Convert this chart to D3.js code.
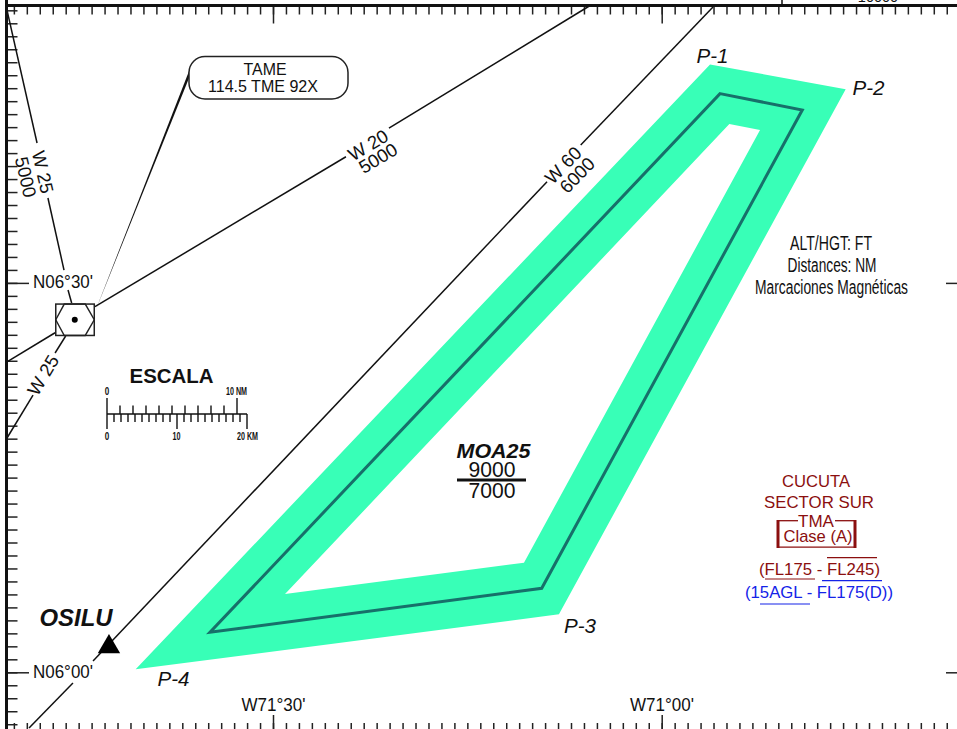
<!DOCTYPE html>
<html>
<head>
<meta charset="utf-8">
<script src="https://cdnjs.cloudflare.com/ajax/libs/d3/7.8.5/d3.min.js"></script>
<style>
  html, body { margin: 0; padding: 0; background: #fff; }
  svg { display: block; }
  text { font-family: "Liberation Sans", Arial, sans-serif; }
</style>
</head>
<body>
<div id="chart"></div>
<script>
// all geographic values in arc minutes: lon = minutes past W72 going east, lat = minutes north of N06
const moaOuter = [[63.73, 46.83], [74.20, 44.92], [52.07, 4.47], [19.40, 0.23]];
const moaHole = [[65.22, 42.24], [67.59, 41.78], [49.37, 8.44], [30.93, 6.03]];
const moaCentre = [[64.50, 44.58], [70.85, 43.32], [50.74, 6.47], [25.14, 3.08]];
const moaCorners = ["P-1", "P-2", "P-3", "P-4"];

const routeW25North = [[[9.47, 51.02], [11.79, 40.78]], [[12.63, 36.54], [13.87, 30.99]], [[14.18, 29.45], [14.46, 28.45]]];
const routeW20North = [[[16.26, 28.17], [35.63, 39.72]], [[38.95, 41.93], [54.54, 51.41]]];
const routeW20South = [[[13.18, 26.16], [9.47, 23.91]]];
const routeW25South = [[[14.00, 25.91], [13.18, 24.60]], [[11.48, 21.36], [9.47, 18.05]]];
const routeW60 = [[[11.17, -4.29], [14.56, -0.82]], [[16.11, 0.87], [51.15, 37.80]], [[53.75, 40.62], [63.96, 51.26]]];

const tameLeader = [[23.52, 46.33], [23.52, 45.79], [16.26, 27.76]];
const tamePoint = [14.70, 27.16];
const osiluPoint = [17.34, 1.96];

const lonMinor = d3.range(10, 83);
const latMinor = d3.range(-4, 52);
const lonMajor = [30, 60];
const latMajor = [0, 30];

const scaleNm = [0, 1, 2, 3, 4, 5, 6, 7, 8, 9, 10];
const scaleKm = [0, 1, 2, 3, 4, 5, 6, 7, 8, 9, 10, 11, 12, 13, 14, 15, 16, 17, 18, 19, 20];

const width = 957, height = 729;

const svg = d3.select("#chart")
  .append("svg")
    .attr("width", width)
    .attr("height", height);

// map scales, calibrated on the W71°30' / W71°00' and N06°00' / N06°30' ticks
const x = d3.scaleLinear().domain([30, 60]).range([273, 661.7]);
const y = d3.scaleLinear().domain([0, 30]).range([672.3, 282.9]);
const line = d3.line().x(d => x(d[0])).y(d => y(d[1]));

// airspace band, hole cut with evenodd
svg.append("path")
    .attr("d", line(moaOuter) + "Z" + line(moaHole) + "Z")
    .attr("fill", "#38ffb7")
    .attr("fill-rule", "evenodd");

svg.append("path")
    .attr("d", line(moaCentre) + "Z")
    .attr("fill", "none")
    .attr("stroke", "#17706a")
    .attr("stroke-width", 3)
    .attr("stroke-linejoin", "miter");

// frame ticks
function tickAxis(axis, translate, values, size) {
  const g = svg.append("g")
      .attr("transform", translate)
      .call(axis.tickValues(values).tickSize(size).tickFormat(""));
  g.select(".domain").remove();
  g.selectAll("line").attr("stroke", "#222").attr("stroke-width", 1.5);
}
tickAxis(d3.axisBottom(x), "translate(0,6)", lonMinor, 8.5);
tickAxis(d3.axisBottom(x), "translate(0,6)", lonMajor, 17.5);
tickAxis(d3.axisTop(x), "translate(0,731)", lonMinor, 8);
tickAxis(d3.axisTop(x), "translate(0,731)", lonMajor, 16);
tickAxis(d3.axisRight(y), "translate(6,0)", latMinor, 11.5);
tickAxis(d3.axisRight(y), "translate(6,0)", latMajor, 23);
tickAxis(d3.axisLeft(y), "translate(958,0)", latMajor, 12);

// frame border
svg.append("line").attr("x1", 6.5).attr("x2", 6.5).attr("y1", 0).attr("y2", height)
    .attr("stroke", "#111").attr("stroke-width", 3);
svg.append("line").attr("x1", 5).attr("x2", width).attr("y1", 5.5).attr("y2", 5.5)
    .attr("stroke", "#111").attr("stroke-width", 3.2);
// bits of the neighbouring sheet above the frame
svg.append("line").attr("x1", 782).attr("x2", 782).attr("y1", 0).attr("y2", 5)
    .attr("stroke", "#111").attr("stroke-width", 1.5);
svg.append("text").attr("x", 878).attr("y", 1.5).attr("text-anchor", "middle")
    .attr("font-size", 14.5).attr("fill", "#111").text("10000");

// airways
const routes = [routeW25North, routeW20North, routeW20South, routeW25South, routeW60];
routes.forEach(route => {
  svg.append("g").selectAll("path")
    .data(route)
    .enter()
    .append("path")
      .attr("d", line)
      .attr("fill", "none")
      .attr("stroke", "#111")
      .attr("stroke-width", 1.5);
});

// leader from the TAME box to the VOR, tapers off
svg.append("path")
    .attr("d", line(tameLeader) + "Z")
    .attr("fill", "#111");

// TAME VOR symbol
const vor = svg.append("g").attr("transform", `translate(${x(tamePoint[0])},${y(tamePoint[1])})`);
vor.append("rect")
    .attr("x", -19).attr("y", -15.7).attr("width", 38.5).attr("height", 31.4)
    .attr("fill", "#fff").attr("stroke", "#222").attr("stroke-width", 1.5);
vor.append("path")
    .attr("d", "M-19,0L-10.5,-15.7L10.5,-15.7L19.5,0L10.5,15.7L-10.5,15.7Z")
    .attr("fill", "none").attr("stroke", "#222").attr("stroke-width", 1.4);
vor.append("circle").attr("r", 3).attr("fill", "#000");

// OSILU triangle
svg.append("path")
    .attr("d", d3.symbol().type(d3.symbolTriangle).size(217))
    .attr("transform", `translate(${x(osiluPoint[0])},${y(osiluPoint[1])})`)
    .attr("fill", "#000");

// TAME callout
svg.append("rect")
    .attr("x", 189).attr("y", 56.5).attr("width", 159).attr("height", 42.5).attr("rx", 16)
    .attr("fill", "#fff").attr("stroke", "#222").attr("stroke-width", 1.5);

// plain text labels
function label(txt, px, py, size, opts = {}) {
  const t = svg.append("text")
      .attr("x", px).attr("y", py)
      .attr("text-anchor", opts.anchor || "middle")
      .attr("font-size", size)
      .attr("font-weight", opts.bold ? "bold" : "normal")
      .attr("font-style", opts.italic ? "italic" : "normal")
      .attr("fill", opts.fill || "#111")
      .text(txt);
  if (opts.fit) t.attr("textLength", opts.fit).attr("lengthAdjust", "spacingAndGlyphs");
  return t;
}

label("TAME", 265, 75, 16, { fit: 43 });
label("114.5 TME 92X", 263, 91.5, 16, { fit: 110 });

label("N06°30'", 63, 288, 17.5, { fit: 60 });
label("N06°00'", 63, 678, 17.5, { fit: 60 });
label("W71°30'", 273.5, 711, 17.5, { fit: 64 });
label("W71°00'", 662, 711, 17.5, { fit: 64 });

// rotated airway labels
const routeLabels = [
  ["W 20", 368, 145, -31], ["5000", 378, 158, -31],
  ["W 60", 563, 165, -46], ["6000", 577, 175, -46],
  ["W 25", 43, 172, 77], ["5000", 26, 177, 77],
  ["W 25", 43, 375, -59]
];
svg.append("g").selectAll("text")
  .data(routeLabels)
  .enter()
  .append("text")
    .attr("transform", d => `translate(${d[1]},${d[2]}) rotate(${d[3]})`)
    .attr("text-anchor", "middle")
    .attr("dy", "0.36em")
    .attr("font-size", 18.5)
    .attr("fill", "#111")
    .text(d => d[0]);

// corner labels of the airspace
const cornerPos = [[712.5, 62.5], [868.5, 95], [580, 633], [173.5, 686]];
moaCorners.forEach((c, i) => label(c, cornerPos[i][0], cornerPos[i][1], 21, { italic: true, fit: 32 }));

label("OSILU", 76, 626, 23, { bold: true, italic: true, fit: 73 });

// MOA block
label("MOA25", 493.5, 457.5, 20.5, { bold: true, italic: true, fit: 74 });
label("9000", 492, 476.5, 22, { fit: 47 });
svg.append("line").attr("x1", 457).attr("x2", 526).attr("y1", 480).attr("y2", 480)
    .attr("stroke", "#111").attr("stroke-width", 3);
label("7000", 492, 498, 22, { fit: 47 });

// notes on the right
label("ALT/HGT: FT", 831, 250, 19.5, { fit: 82 });
label("Distances: NM", 832, 272, 19.5, { fit: 89 });
label("Marcaciones Magnéticas", 831.5, 294, 19.5, { fit: 153 });

// scale bar
const nm = d3.scaleLinear().domain([0, 10]).range([107, 237]);
const km = d3.scaleLinear().domain([0, 20]).range([107, 247]);
const barY = 414;
const bar = svg.append("g").attr("stroke", "#111").attr("stroke-width", 1.4);
bar.append("line").attr("x1", km(0)).attr("x2", km(20)).attr("y1", barY).attr("y2", barY);
bar.selectAll(".nm")
  .data(scaleNm)
  .enter()
  .append("line")
    .attr("x1", d => nm(d)).attr("x2", d => nm(d))
    .attr("y1", barY)
    .attr("y2", d => (d % 10 === 0 ? 398 : 405.5));
bar.selectAll(".km")
  .data(scaleKm)
  .enter()
  .append("line")
    .attr("x1", d => km(d)).attr("x2", d => km(d))
    .attr("y1", barY)
    .attr("y2", d => (d % 10 === 0 ? 429 : 422));

label("ESCALA", 171.5, 383, 20.5, { bold: true, fit: 84 });
label("0", 107, 395, 11, { bold: true, fit: 4.5 });
label("10 NM", 236.5, 395, 11, { bold: true, fit: 21 });
label("0", 107, 440, 11, { bold: true, fit: 4.5 });
label("10", 176.5, 440, 11, { bold: true, fit: 8 });
label("20 KM", 247.5, 440, 11, { bold: true, fit: 21 });

// airspace class block
const darkRed = "#8b0f0f", blue = "#1423e8";
label("CUCUTA", 816, 487, 17, { fill: darkRed, fit: 68 });
label("SECTOR SUR", 819, 507.5, 17, { fill: darkRed, fit: 110 });
label("TMA", 816, 526.5, 17, { fill: darkRed, fit: 36 });
label("Clase (A)", 818, 542, 17, { fill: darkRed, fit: 69 });
label("(FL175 - FL245)", 819.5, 575, 17, { fill: darkRed, fit: 121 });
label("(15AGL - FL175(D))", 819, 598, 17, { fill: blue, fit: 148 });

// bracket and over/underlines of the limits, [x1, x2, y, colour, weight]
const classRules = [
  [778, 798, 520.7, darkRed, 1.3], [835, 855, 520.7, darkRed, 1.3], [779, 854, 547.2, darkRed, 1.3],
  [765, 815, 579, darkRed, 1.2], [827, 877, 557.7, darkRed, 1.2],
  [822, 882, 580.7, blue, 1.2], [760, 810, 604, blue, 1.2]
];
svg.append("g").selectAll("line")
  .data(classRules)
  .enter()
  .append("line")
    .attr("x1", d => d[0]).attr("x2", d => d[1])
    .attr("y1", d => d[2]).attr("y2", d => d[2])
    .attr("stroke", d => d[3]).attr("stroke-width", d => d[4]);
[778, 855].forEach(bx => {
  svg.append("line").attr("x1", bx).attr("x2", bx).attr("y1", 520).attr("y2", 548)
      .attr("stroke", darkRed).attr("stroke-width", 3);
});
</script>
</body>
</html>
